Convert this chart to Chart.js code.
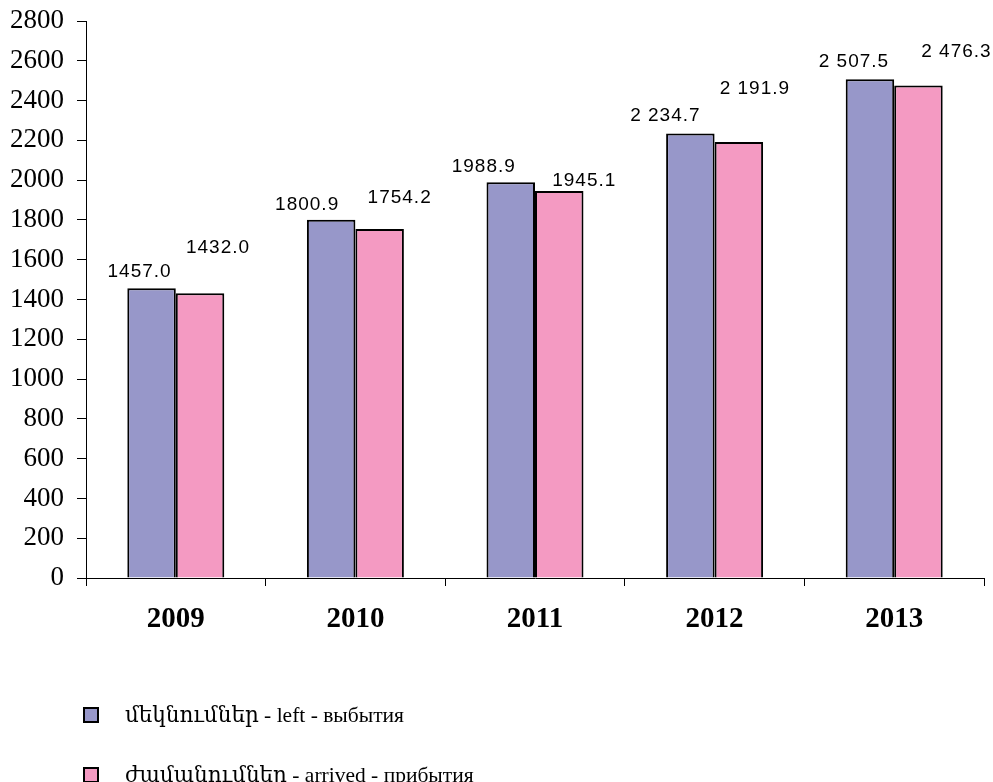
<!DOCTYPE html>
<html>
<head>
<meta charset="utf-8">
<script src="https://cdn.jsdelivr.net/npm/chart.js@4.4.1/dist/chart.umd.min.js"></script>
<style>
    body { margin: 0; background: #fff; }
    #wrap { position: relative; width: 993px; height: 782px; }
    #legend { position: absolute; left: 83px; top: 700px; font-family: "Liberation Serif", "DejaVu Serif", serif; font-size: 21.5px; color: #000; }
    .item { display: flex; align-items: center; height: 30px; margin-bottom: 30px; }
    .box { width: 12px; height: 12px; border: 2px solid #000; margin-right: 26px; }
</style>
</head>
<body>
<div id="wrap">
    <canvas id="migrationChart" width="993" height="782"></canvas>
    <div id="legend"></div>
</div>
<script>
const years = ["2009", "2010", "2011", "2012", "2013"];
const leftValues = [1457.0, 1800.9, 1988.9, 2234.7, 2507.5];
const arrivedValues = [1432.0, 1754.2, 1945.1, 2191.9, 2476.3];
const yTicks = [0, 200, 400, 600, 800, 1000, 1200, 1400, 1600, 1800, 2000, 2200, 2400, 2600, 2800];

// label nudges as placed in the original (px from bar top centre)
const labelShift = [
    [[-12, -16], [-24, -15], [-27, -16], [-25, -18], [-16, -17]],
    [[18, -45], [20, -31], [25, -10], [16, -53], [38, -34]]
];

function fmt(v) {
    let s = v.toFixed(1);
    if (v >= 2000) s = s.slice(0, 1) + " " + s.slice(1);
    return s;
}

const valueLabels = {
    id: "valueLabels",
    afterDatasetsDraw(chart) {
        const c = chart.ctx;
        c.save();
        c.font = "19px 'Liberation Sans', Arial, sans-serif";
        c.fillStyle = "#000";
        c.textAlign = "center";
        c.textBaseline = "middle";
        c.letterSpacing = "1px";
        chart.data.datasets.forEach((ds, i) => {
            chart.getDatasetMeta(i).data.forEach((bar, j) => {
                const s = labelShift[i][j];
                c.fillText(fmt(ds.data[j]), bar.x + s[0], bar.y + s[1]);
            });
        });
        c.restore();
    }
};

const ctx = document.getElementById("migrationChart").getContext("2d");

let chart = new Chart(ctx, {
    type: "bar",
    data: {
        labels: years,
        datasets: [{
            label: "մեկնումներ - left - выбытия",
            data: leftValues,
            backgroundColor: "#9797c9",
            borderColor: "#000",
            borderWidth: 2
        }, {
            label: "ժամանումներ - arrived - прибытия",
            data: arrivedValues,
            backgroundColor: "#f49ac2",
            borderColor: "#000",
            borderWidth: 2
        }]
    },
    options: {
        responsive: false,
        animation: false,
        layout: { padding: { left: 0, right: 9, top: 21, bottom: 0 } },
        datasets: { bar: { categoryPercentage: 0.54, barPercentage: 1 } },
        plugins: { legend: { display: false }, tooltip: { enabled: false } },
        scales: {
            x: {
                afterFit(s) { s.height = 204; s.paddingLeft = 0; s.paddingRight = 0; },
                grid: { offset: true, drawOnChartArea: false, tickLength: 8, color: "#000", lineWidth: 1 },
                border: { color: "#000", width: 1 },
                ticks: { color: "#000", padding: 16, font: { family: "'Liberation Serif', serif", size: 29, weight: "bold" } }
            },
            y: {
                min: 0,
                max: 2800,
                afterFit(s) { s.width = 86; s.paddingTop = 0; s.paddingBottom = 0; },
                afterBuildTicks(s) { s.ticks = yTicks.map(v => ({ value: v })); },
                grid: { drawOnChartArea: false, tickLength: 9, color: "#000", lineWidth: 1 },
                border: { color: "#000", width: 1 },
                ticks: {
                    color: "#000",
                    padding: 13,
                    font: { family: "'Liberation Serif', serif", size: 27 },
                    callback: v => String(v)
                }
            }
        }
    },
    plugins: [valueLabels]
});

const legend = document.getElementById("legend");
chart.data.datasets.forEach(ds => {
    const item = document.createElement("div");
    item.className = "item";
    item.innerHTML = '<span class="box" style="background:' + ds.backgroundColor + '"></span><span>' + ds.label + '</span>';
    legend.appendChild(item);
});
</script>
</body>
</html>
